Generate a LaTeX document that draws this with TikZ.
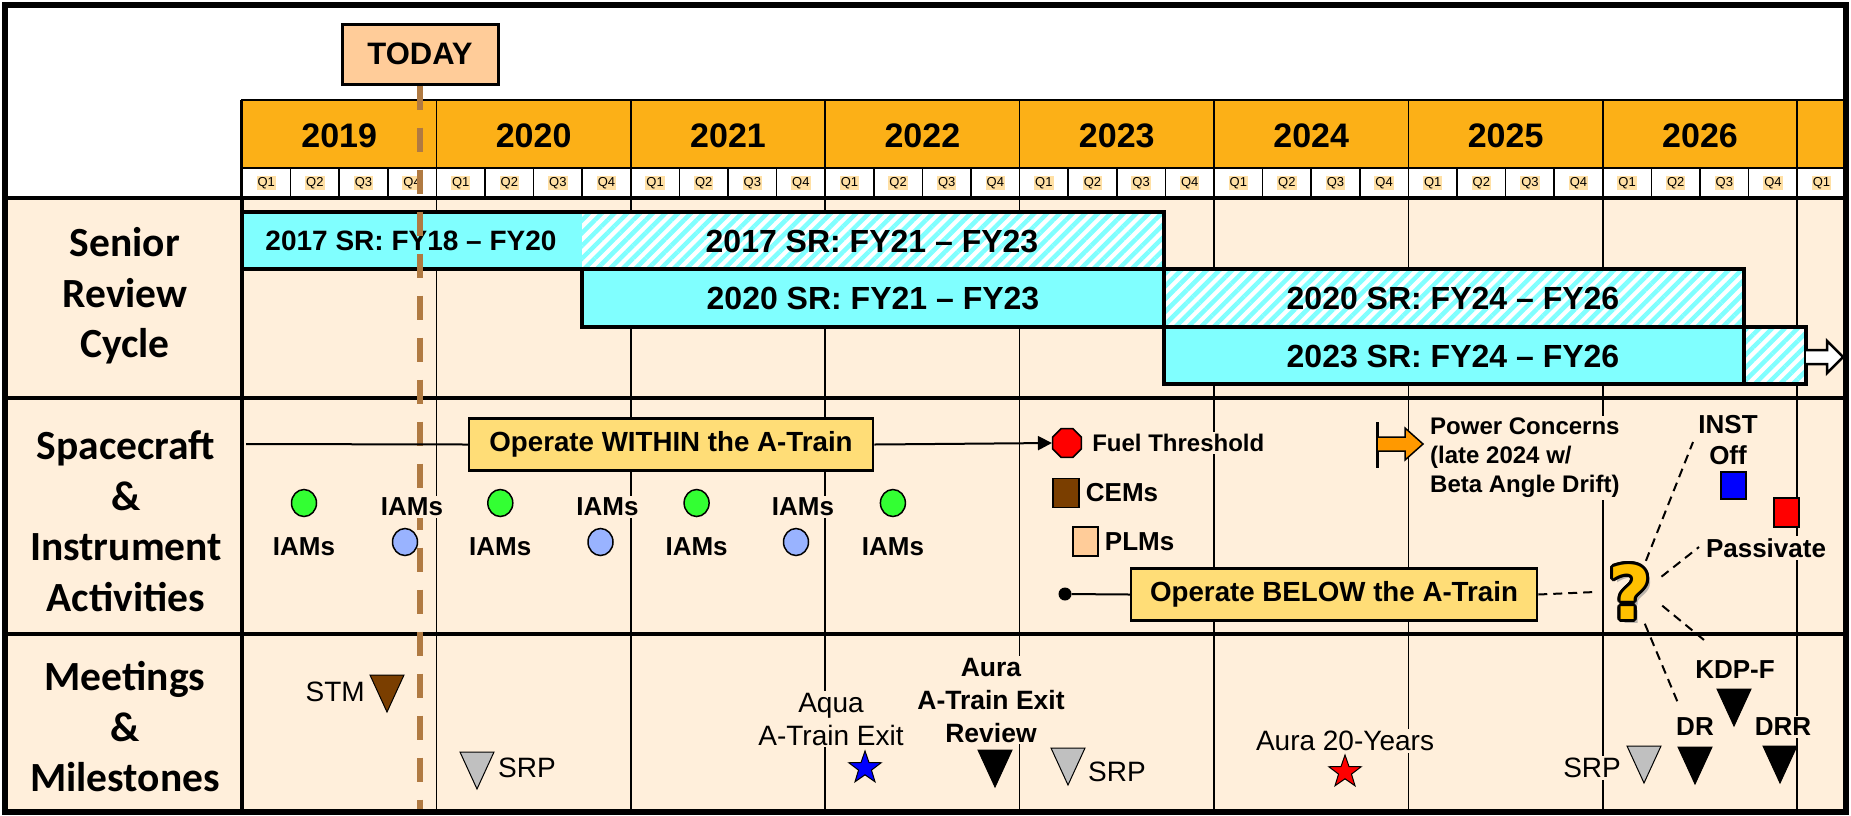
\documentclass[tikz,border=0pt]{standalone}
\usepackage{fontspec}
\setmainfont{Liberation Sans}
\newfontfamily\calfont{Carlito}
\newfontfamily\qfont{DejaVu Sans}
\usetikzlibrary{shapes.geometric,arrows.meta,patterns.meta,positioning,calc}

\definecolor{cream}{RGB}{255,239,219}
\definecolor{yearorange}{RGB}{252,176,23}
\definecolor{srcyan}{RGB}{128,255,255}
\definecolor{todaypeach}{RGB}{255,204,153}
\definecolor{todayline}{RGB}{176,122,66}
\definecolor{opgold}{RGB}{255,221,119}
\definecolor{cembrown}{RGB}{122,62,0}
\definecolor{qhigh}{RGB}{255,224,165}
\definecolor{iamgreen}{RGB}{51,255,51}
\definecolor{iamblue}{RGB}{153,179,255}
\definecolor{qyellow}{RGB}{255,192,0}
\definecolor{powerorange}{RGB}{255,153,0}
\definecolor{srpgray}{RGB}{192,192,192}

% milestone triangle: left x, top y, fill
\newcommand{\msdown}[3]{\filldraw[fill=#3, line width=1pt] (#1,#2) -- ++(34,0) -- ++(-17,37) -- cycle;}

\begin{document}
\begin{tikzpicture}[x=1pt,y=-1pt,
	yearlbl/.style={font=\bfseries\fontsize{34}{34}\selectfont},
	qlbl/.style={font=\fontsize{13}{13}\selectfont, fill=qhigh, inner sep=1pt},
	rowlbl/.style={font=\calfont\bfseries\fontsize{41.5}{50.5}\selectfont, align=center},
	barlbl/.style={font=\bfseries\fontsize{32}{32}\selectfont},
	srbar/.style={draw, line width=3.5pt},
	hatch/.style={pattern={Lines[angle=45,distance=9pt,line width=4.5pt]}, pattern color=srcyan},
	todaybox/.style={draw, line width=3pt, fill=todaypeach, minimum width=156pt, minimum height=60pt, font=\bfseries\fontsize{31}{31}\selectfont},
	todaydash/.style={todayline, line width=6pt, dash pattern=on 24pt off 18pt},
	opbox/.style={draw, line width=2.5pt, fill=opgold, minimum height=52pt, font=\bfseries\fontsize{27.7}{27.7}\selectfont},
	actlbl/.style={font=\bfseries\fontsize{26}{31}\selectfont, fill=cream, inner sep=2pt, align=center},
	meetlbl/.style={font=\fontsize{28}{33}\selectfont, fill=cream, inner sep=2pt, align=center},
	iamdot/.style={ellipse, draw, line width=1.5pt, minimum width=25pt, minimum height=27pt, inner sep=0},
	sqmark/.style={draw, line width=1.5pt, inner sep=0},
	octmark/.style={regular polygon, regular polygon sides=8, draw, line width=1.5pt, fill=red, minimum size=31pt, inner sep=0},
	starmark/.style={star, star points=5, star point ratio=2.5, draw, line width=1pt, minimum size=34pt, inner sep=0},
	qglyph/.style={font=\qfont\bfseries\fontsize{74}{74}\selectfont, inner sep=0},
	branch/.style={line width=2pt, dash pattern=on 9pt off 6pt},
	gridline/.style={line width=1.5pt},
	rowline/.style={line width=3.5pt}]
\useasboundingbox (0,0) rectangle (1851,815);
\fill[white] (0,0) rectangle (1851,815);
\fill[cream] (5,198) rectangle (1846,812);

% year grid
\foreach \i in {1,...,8}
	\draw[gridline] ({242+194.4*\i},198) -- ({242+194.4*\i},812);
\draw[rowline] (5,198) -- (1846,198);
\draw[rowline] (5,398) -- (1846,398);
\draw[rowline] (5,634) -- (1846,634);
\draw[rowline] (242,100) -- (242,812);

% header
\foreach \yr [count=\i from 0] in {2019,...,2026}{%
	\draw[fill=yearorange, line width=1.5pt] ({242+194.4*\i},100) rectangle ++(194.4,68);
	\node[yearlbl] (yr\yr) at ({339.2+194.4*\i},136) {\yr};
	}
\draw[fill=yearorange, line width=1.5pt] (1797.2,100) rectangle (1845,168);
\foreach \q in {0,...,32}{%
	\pgfmathtruncatemacro{\qn}{mod(\q,4)+1}
	\draw[fill=white, line width=1.5pt] ({242+48.6*\q},168) rectangle ++(48.6,29);
	\node[qlbl] (q\q) at ({266.3+48.6*\q},183) {Q\qn};
	}

% row labels
\node[rowlbl] (lblsr) at (125,296) {Senior\\Review\\Cycle};
\node[rowlbl] (lblsc) at (126,521) {Spacecraft\\\&\\Instrument\\Activities};
\node[rowlbl] (lblmm) at (125,727) {Meetings\\\&\\Milestones};

% senior review bars
\fill[srcyan] (242,212) rectangle (582,269);
\fill[white] (582,212) rectangle (1164,269);
\fill[hatch] (582,212) rectangle (1164,269);
\draw[srbar] (242,212) rectangle (1164,269);
\fill[srcyan] (582,269) rectangle (1164,327);
\draw[srbar] (582,269) rectangle (1164,327);
\fill[white] (1164,269) rectangle (1744,327);
\fill[hatch] (1164,269) rectangle (1744,327);
\draw[srbar] (1164,269) rectangle (1744,327);
\fill[srcyan] (1164,327) rectangle (1744,384);
\draw[srbar] (1164,327) rectangle (1744,384);
\fill[white] (1744,327) rectangle (1806,384);
\fill[hatch] (1744,327) rectangle (1806,384);
\draw[srbar] (1744,327) rectangle (1806,384);
\filldraw[fill=white, line width=2.5pt] (1806,350) -- (1827,350) -- (1827,341) -- (1843,357) -- (1827,373) -- (1827,364) -- (1806,364);
\node[barlbl, font=\bfseries\fontsize{28}{28}\selectfont] (sr17a) at (411,241) {2017 SR: FY18 – FY20};
\node[barlbl] (sr17b) at (872,241) {2017 SR: FY21 – FY23};
\node[barlbl] (sr20a) at (873,298) {2020 SR: FY21 – FY23};
\node[barlbl] (sr20b) at (1453,298) {2020 SR: FY24 – FY26};
\node[barlbl] (sr23) at (1453,356) {2023 SR: FY24 – FY26};

% today
\node[todaybox] (today) at (420,54) {TODAY};
\coordinate (todayend) at (420,813);
\draw[todaydash] (today.south) -- (todayend);

% spacecraft & instrument activities
\coordinate (opstart) at (246,444);
\node[opbox, minimum width=404pt] (within) at (671,444.5) {Operate WITHIN the A-Train};
\node[octmark] (fuel) at (1067,443) {};
\draw[line width=2pt] (opstart) -- (within.west);
\draw[line width=2pt, -{Triangle[length=14pt,width=14pt]}] (within.east) -- (fuel.west);
\node[actlbl, font=\bfseries\fontsize{24}{24}\selectfont, right=8pt of fuel] (fueltxt) {Fuel Threshold};
\node[sqmark, fill=cembrown, minimum width=26pt, minimum height=29pt] (cem) at (1066,493) {};
\node[actlbl, right=4pt of cem] (cemtxt) {CEMs};
\node[sqmark, fill=todaypeach, minimum width=25pt, minimum height=29pt] (plm) at (1085.5,541.5) {};
\node[actlbl, right=4pt of plm] (plmtxt) {PLMs};
\foreach \i in {0,...,3}{%
	\node[iamdot, fill=iamgreen] (iamg\i) at ({304+196.3*\i},503) {};
	\node[actlbl] (iamgt\i) at ({304+196.3*\i},547) {IAMs};
	}
\foreach \i in {0,1,2}{%
	\node[iamdot, fill=iamblue] (iamb\i) at ({405+195.5*\i},542) {};
	\node[actlbl] (iambt\i) at ({412+195.5*\i},507) {IAMs};
	}
\node[circle, fill, inner sep=0, minimum size=13pt] (belowdot) at (1065,594) {};
\node[opbox, minimum width=406pt] (below) at (1334,594.5) {Operate BELOW the A-Train};
\draw[line width=2pt] (belowdot) -- (below.west);
\draw[line width=3pt] (1377,422) -- (1377,468);
\filldraw[fill=powerorange, line width=1.5pt] (1377,437) -- (1405,437) -- (1405,428) -- (1423,444) -- (1405,460) -- (1405,451) -- (1377,451) -- cycle;
\node[actlbl, font=\bfseries\fontsize{24}{29}\selectfont, anchor=west, align=left] (power) at (1428,458) {Power Concerns\\(late 2024 w/\\Beta Angle Drift)};
\node[actlbl] (inst) at (1728,440) {INST\\Off};
\node[sqmark, fill=blue, minimum width=25pt, minimum height=27pt] (instsq) at (1733.5,485.5) {};
\node[sqmark, fill=red, minimum width=25pt, minimum height=29pt] (passsq) at (1786.5,512.5) {};
\node[actlbl] (pass) at (1766,548) {Passivate};

% what comes after the A-Train
\coordinate (qpos) at (1630,592);
\node[qglyph, text=black!45, opacity=0.6] (qshadow) at ($(qpos)+(4,4)$) {?};
\foreach \a [count=\k] in {0,22.5,...,337.5}
	\node[qglyph, text=black] (qo\k) at ($(qpos)+(\a:3)$) {?};
\node[qglyph, circle, minimum size=68pt, text=qyellow] (qmark) at (qpos) {?};
\coordinate (instend) at (1693,442);
\coordinate (passend) at (1699,547);
\coordinate (kdpend) at (1704,640);
\coordinate (drend) at (1678,703);
\draw[branch] (below.east) -- (qmark.west);
\draw[branch] (qmark.63) -- (instend);
\draw[branch] (qmark.26) -- (passend);
\draw[branch] (qmark.-23) -- (kdpend);
\draw[branch] (qmark.-65) -- (drend);

% meetings & milestones
\msdown{370}{675}{cembrown}
\node[meetlbl, anchor=east] (stm) at (367,692) {STM};
\msdown{460}{752}{srpgray}
\node[meetlbl, anchor=west] (srp1) at (496,768) {SRP};
\node[meetlbl] (aqua) at (831,719) {Aqua\\A-Train Exit};
\node[starmark, fill=blue] (aquastar) at (865,768) {};
\node[meetlbl, font=\bfseries\fontsize{26.5}{33}\selectfont] (auraexit) at (991,700) {Aura\\A-Train Exit\\Review};
\msdown{978}{750}{black}
\msdown{1051}{748}{srpgray}
\node[meetlbl, anchor=west] (srp2) at (1086,772) {SRP};
\node[meetlbl] (aura20) at (1345,741) {Aura 20-Years};
\node[starmark, fill=red] (aurastar) at (1345,772) {};
\node[meetlbl, anchor=east] (srp3) at (1623,768) {SRP};
\msdown{1627}{746}{srpgray}
\msdown{1678}{747}{black}
\node[actlbl] (dr) at (1695,727) {DR};
\msdown{1717}{689}{black}
\node[actlbl] (kdp) at (1735,670) {KDP-F};
\msdown{1763}{746}{black}
\node[actlbl] (drr) at (1783,727) {DRR};

% frame
\draw[line width=6pt] (5,5) rectangle (1846,812);
\end{tikzpicture}
\end{document}
